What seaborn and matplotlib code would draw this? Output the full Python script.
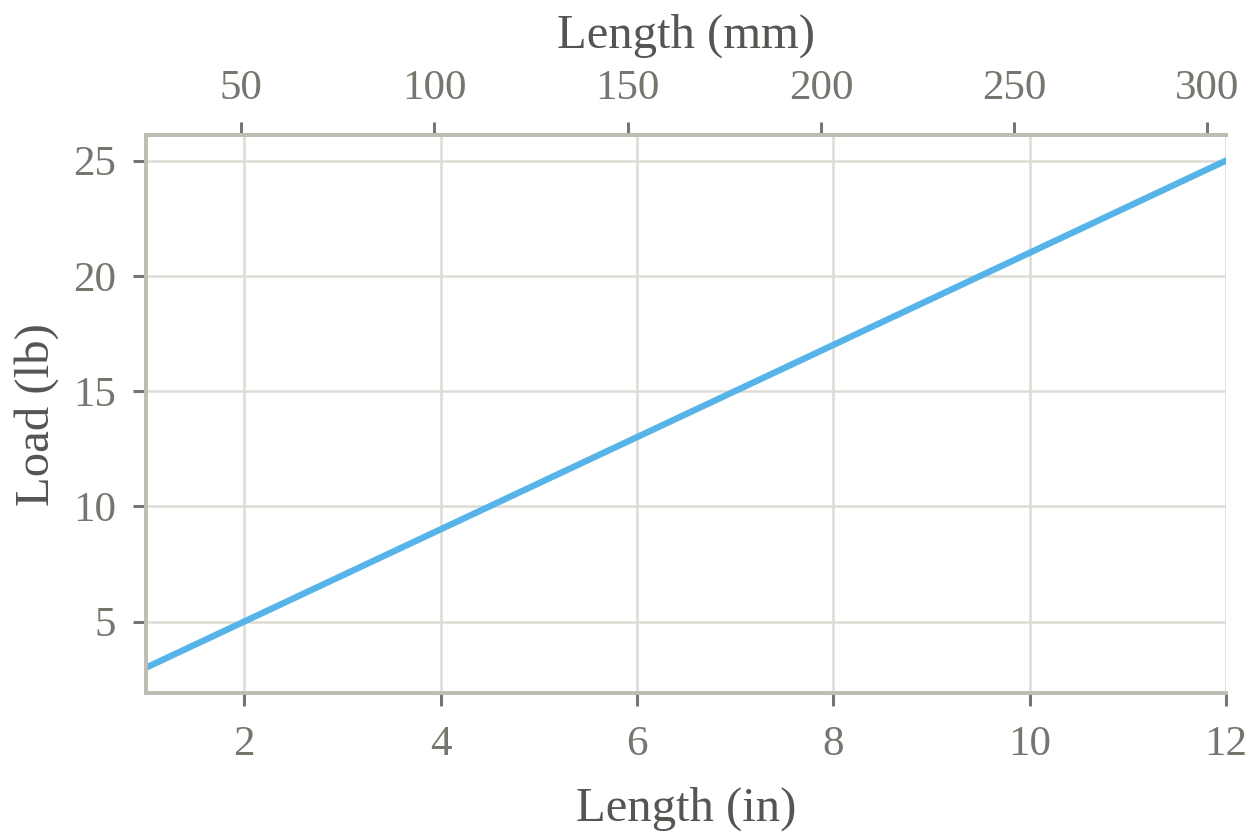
import numpy as np
import pandas as pd
import matplotlib
matplotlib.use("Agg")
import matplotlib.pyplot as plt
import seaborn as sns

# Data
length_in = [1, 2, 4, 6, 8, 10, 12]
load_lb = [3, 5, 9, 13, 17, 21, 25]
x_ticks = [2, 4, 6, 8, 10, 12]
y_ticks = [5, 10, 15, 20, 25]
top_ticks = [50, 100, 150, 200, 250, 300]

df = pd.DataFrame({"Length (in)": length_in, "Load (lb)": load_lb})

sns.set_theme(style="whitegrid")
plt.rcParams["font.family"] = ["Liberation Serif", "DejaVu Serif"]

SPINE = "#bdbdb2"
GRID = "#dddcd4"
TICKC = "#76766e"
LABC = "#555552"

fig = plt.figure(figsize=(6.3, 4.2), dpi=200)
ax = fig.add_axes([0.1159, 0.175, 0.973 - 0.1159, 0.839 - 0.175])
sns.lineplot(data=df, x="Length (in)", y="Load (lb)", ax=ax, color="#56B4E9", linewidth=2.3)

ax.set_xlim(1, 12)
ax.set_ylim(1.9, 26.1)
ax.set_xticks(x_ticks)
ax.set_yticks(y_ticks)
ax.grid(True, color=GRID, linewidth=0.9)
ax.set_facecolor("white")
for s in ["left", "bottom", "top"]:
    ax.spines[s].set_visible(True)
    ax.spines[s].set_color(SPINE)
    ax.spines[s].set_linewidth(1.4)
ax.spines["right"].set_visible(False)
ax.tick_params(axis="both", which="major", direction="out", length=4.8, width=1.1,
               color=TICKC, labelcolor=TICKC, labelsize=15.5, pad=7,
               bottom=True, left=True)
ax.tick_params(axis="y", pad=6)
ax.set_xlabel("Length (in)", fontsize=17.5, color=LABC, labelpad=8)
ax.set_ylabel("Load (lb)", fontsize=17.5, color=LABC, labelpad=5)

sec = ax.secondary_xaxis("top", functions=(lambda v: v * 25.4, lambda v: v / 25.4))
sec.set_xticks(top_ticks)
sec.spines["top"].set_color(SPINE)
sec.spines["top"].set_linewidth(1.4)
sec.tick_params(axis="x", direction="out", length=4.8, width=1.1, color=TICKC,
                labelcolor=TICKC, labelsize=15.5, pad=5, top=True)
sec.set_xlabel("Length (mm)", fontsize=17.5, color=LABC, labelpad=8)

fig.savefig("out.png", dpi=200)
